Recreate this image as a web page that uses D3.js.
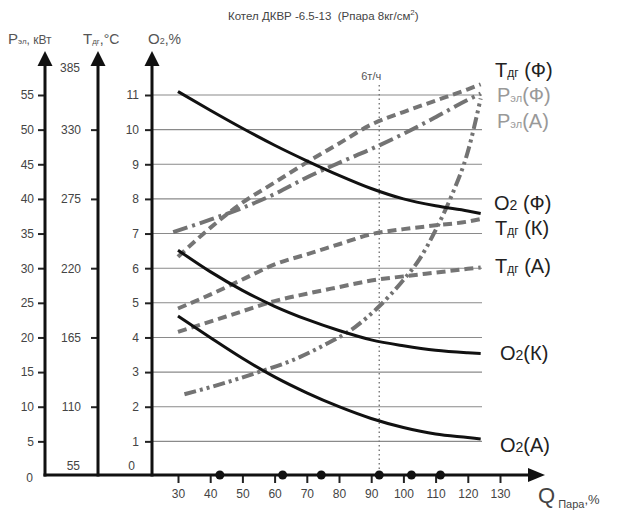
<!DOCTYPE html>
<html><head><meta charset="utf-8">
<script src="https://cdn.jsdelivr.net/npm/d3@7"></script>
<style>
body{margin:0;background:#fff}
svg{display:block;font-family:"Liberation Sans",Arial,sans-serif}
</style>
</head><body>
<svg id="c" width="619" height="517"></svg>
<script>
// ---- data ----
const qTicks = [30,40,50,60,70,80,90,100,110,120,130];
const pTicks = [0,5,10,15,20,25,30,35,40,45,50,55];
const tTicks = [110,165,220,275,330];
const o2Ticks = [1,2,3,4,5,6,7,8,9,10,11];

const qGrid = [30,40,50,60,70,80,90,100,110,120,124];
const o2F = [11.1,10.56,10.04,9.55,9.1,8.68,8.3,8.0,7.8,7.65,7.58];
const o2K = [6.52,5.9,5.36,4.9,4.52,4.2,3.93,3.76,3.63,3.56,3.54];
const o2A = [4.62,4.0,3.4,2.86,2.4,2.0,1.66,1.4,1.21,1.11,1.07];

const tF = [229,252,272,288,304,319,334,344,353,362,366];
const tK = [188,199,211,223,231,239,247,251,254,257,259];
const tA = [169.5,177.6,185.8,193.9,199.7,205,210.2,213.5,216.5,219.5,220.6];

const qPF = [28.5,40,50,60,70,80,90,100,110,120,124];
const pF  = [35.2,37.0,38.7,40.7,43.1,45.2,47.2,49.4,51.8,54.3,55.2];
const qPA = [32,45,55,65,75,85,92.5,100,105,110,115,120,124];
const pA  = [11.8,13.5,15.0,16.6,18.8,21.5,24.5,28.3,31.3,35.5,40.5,46.8,54.5];

const markQ = [43,62.5,74.5,92.5,102.5,111.5];
const loadQ = 92.5;

// ---- scales ----
const svg = d3.select("#c");
const x  = d3.scaleLinear([30,130],[178,500]);
const yO = d3.scaleLinear([0,11],[476,95]);
const yP = d3.scaleLinear([0,55],[476,95]);
const yT = d3.scaleLinear([55,385],[476,476-12*(381/11)]);

const axisY = 475;

// grid
svg.append("g").selectAll("line").data(o2Ticks).join("line")
  .attr("x1",152).attr("x2",482)
  .attr("y1",d=>yO(d)).attr("y2",d=>yO(d))
  .attr("stroke","#8a8a8a").attr("stroke-width",1.1);

// dotted load line
svg.append("line").attr("x1",x(loadQ)).attr("x2",x(loadQ))
  .attr("y1",85).attr("y2",axisY)
  .attr("stroke","#777").attr("stroke-width",1.4).attr("stroke-dasharray","1.5,3");
svg.append("text").attr("x",x(loadQ)-18).attr("y",80)
  .attr("font-size",11).attr("fill","#555").text("6т/ч");

// series
const mk = (qs, vs, ys) => d3.line().curve(d3.curveMonotoneX)
  .x((d,i)=>x(qs[i])).y(d=>ys(d))(vs);

const series = [
  {q:qPA, v:pA, s:yP, c:"#737373", w:4, dash:"12,4,3,4,3,4"},
  {q:qPF, v:pF, s:yP, c:"#737373", w:4, dash:"15,5,3,5"},
  {q:qGrid, v:tA, s:yT, c:"#757575", w:4, dash:"9,5"},
  {q:qGrid, v:tK, s:yT, c:"#757575", w:4, dash:"9,5"},
  {q:qGrid, v:tF, s:yT, c:"#757575", w:4, dash:"9,5"},
  {q:qGrid, v:o2A, s:yO, c:"#111", w:3, dash:null},
  {q:qGrid, v:o2K, s:yO, c:"#111", w:3, dash:null},
  {q:qGrid, v:o2F, s:yO, c:"#111", w:3, dash:null},
];
svg.append("g").selectAll("path").data(series).join("path")
  .attr("d",d=>mk(d.q,d.v,d.s))
  .attr("fill","none").attr("stroke",d=>d.c).attr("stroke-width",d=>d.w)
  .attr("stroke-dasharray",d=>d.dash);

// axes
function styleAxis(g){
  g.select(".domain").remove();
  g.selectAll(".tick line").attr("stroke","#222").attr("stroke-width",2);
  g.selectAll(".tick text").attr("fill","#444").attr("font-size",12)
   .attr("font-family",'"Liberation Sans",Arial,sans-serif');
}
const gP = svg.append("g").attr("transform","translate(45,0)")
  .call(d3.axisLeft(yP).tickValues(pTicks).tickSize(7).tickPadding(4)).call(styleAxis);
gP.selectAll(".tick").filter(d=>d===0).select("line").remove();
gP.selectAll(".tick").filter(d=>d===0).select("text").attr("x",-12).attr("dy","0.45em");

svg.append("g").attr("transform","translate(98,0)")
  .call(d3.axisLeft(yT).tickValues(tTicks).tickSize(7).tickPadding(10)).call(styleAxis);
svg.append("text").attr("x",80).attr("y",72).attr("text-anchor","end")
  .attr("font-size",12).attr("fill","#444").text("385");
svg.append("text").attr("x",80).attr("y",470).attr("text-anchor","end")
  .attr("font-size",12).attr("fill","#444").text("55");

svg.append("g").attr("transform","translate(152,0)")
  .call(d3.axisLeft(yO).tickValues(o2Ticks).tickSize(7).tickPadding(6)).call(styleAxis);
svg.append("text").attr("x",135).attr("y",470).attr("text-anchor","end")
  .attr("font-size",12).attr("fill","#444").text("0");

svg.append("g").attr("transform",`translate(0,${axisY})`)
  .call(d3.axisBottom(x).tickValues(qTicks).tickSize(8).tickPadding(6)).call(styleAxis);

// axis lines + arrows
[45,98,152].forEach(ax=>{
  svg.append("line").attr("x1",ax).attr("x2",ax).attr("y1",60).attr("y2",axisY+1.5)
    .attr("stroke","#111").attr("stroke-width",3);
  svg.append("path").attr("d",`M${ax-7.5},66L${ax},51L${ax+7.5},66Z`).attr("fill","#111");
});
svg.append("line").attr("x1",43.5).attr("x2",532).attr("y1",axisY).attr("y2",axisY)
  .attr("stroke","#111").attr("stroke-width",3);
svg.append("path").attr("d",`M528,${axisY-7}L545,${axisY}L528,${axisY+7}Z`).attr("fill","#111");

// marks on x axis
svg.append("g").selectAll("circle").data(markQ).join("circle")
  .attr("cx",d=>x(d)).attr("cy",axisY).attr("r",4.5).attr("fill","#111");

// helper for rich text
function rich(xp, yp, parts, fill){
  const t = svg.append("text").attr("x",xp).attr("y",yp).attr("fill",fill)
    .style("white-space","pre");
  parts.forEach(p=>{
    const s = t.append("tspan").attr("font-size",p[1]).text(p[0]);
    if(p[2]) s.attr("dy",p[2]);
  });
  return t;
}

// title
rich(228,20,[["Котел ДКВР -6.5-13  (Рпара 8кг/см",11.5],["2",8,-5],[")",11.5,5]],"#444");

// axis titles
rich(8,44,[["P",15],["эл",8],[", кВт",12]],"#555");
rich(83,44,[["T",15],["дг",8],[",°C",14]],"#555");
rich(148,44,[["O",15],["2",9],[",%",14]],"#555");

// x-axis title
rich(538,503,[["Q",22],[" Пара",11,5],[",%",13,-4]],"#444");

// legend labels
rich(495,77,[["T",20],["дг",12],[" (Ф)",20]],"#222");
rich(497,102,[["P",20],["эл",11],["(Ф)",20]],"#999");
rich(497,128,[["P",20],["эл",11],["(А)",20]],"#999");
rich(494,210,[["O",20],["2",14],[" (Ф)",20]],"#222");
rich(495,235,[["T",20],["дг",12],[" (К)",20]],"#222");
rich(495,273,[["T",20],["дг",12],[" (А)",20]],"#222");
rich(500,360,[["O",20],["2",14],["(К)",20]],"#222");
rich(500,452,[["O",20],["2",14],["(А)",20]],"#222");
</script>
</body></html>
